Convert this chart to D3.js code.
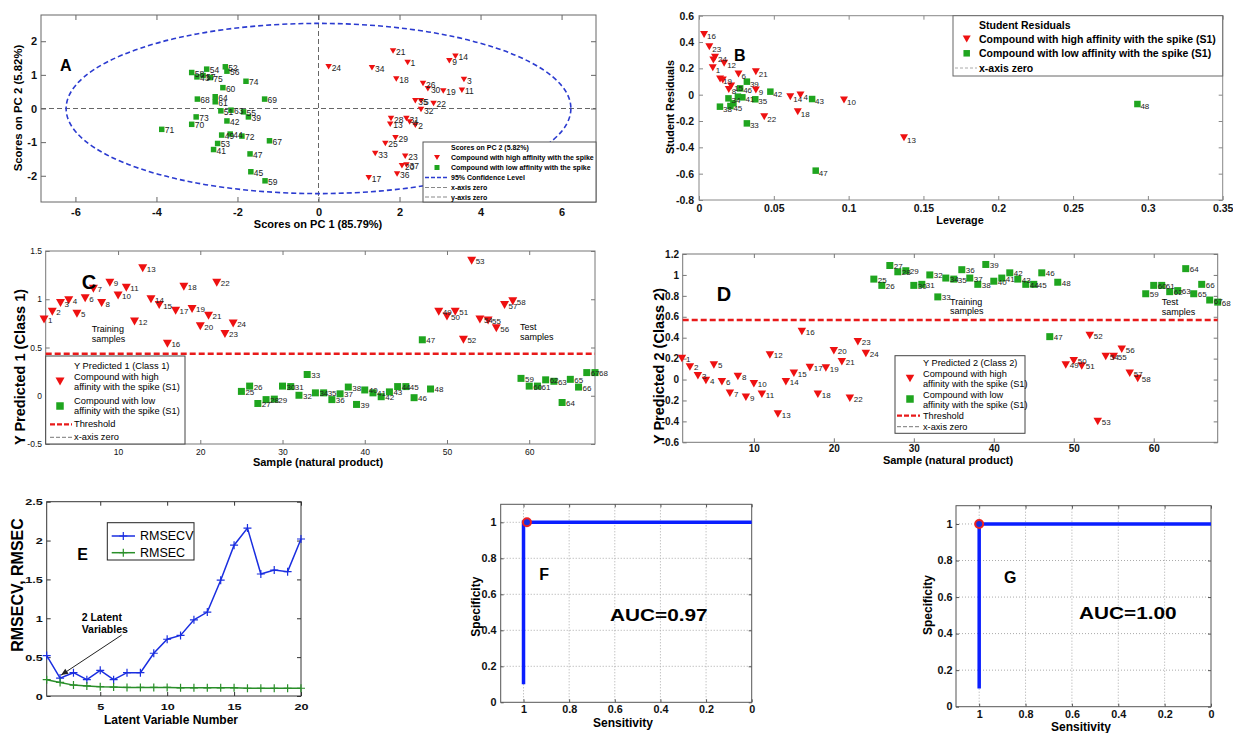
<!DOCTYPE html>
<html><head><meta charset="utf-8">
<script src="https://cdn.jsdelivr.net/npm/d3@7"></script>
<style>body{margin:0;background:#fff}svg{display:block}</style>
</head><body>
<script>
// ---------------- DATA ----------------
// Panel A: PCA scores [label, PC1, PC2]
const pcaHigh = [[21,1.84,1.71],[14,3.38,1.55],[9,3.23,1.42],[1,2.20,1.37],[24,0.25,1.24],[34,1.32,1.21],[18,1.92,0.88],[3,3.59,0.86],[26,2.58,0.74],[30,2.70,0.59],[19,3.08,0.52],[11,3.54,0.54],[35,2.39,0.23],[5,2.53,0.23],[22,2.84,0.15],[32,2.53,-0.03],[28,1.79,-0.30],[31,2.17,-0.30],[4,2.25,-0.40],[2,2.39,-0.50],[13,1.77,-0.47],[29,1.90,-0.87],[25,1.65,-1.04],[33,1.40,-1.34],[23,2.14,-1.42],[20,2.06,-1.70],[37,2.17,-1.68],[36,1.94,-1.95],[17,1.24,-2.06]];
const pcaLow = [[52,-2.30,1.24],[56,-2.26,1.11],[54,-2.76,1.17],[58,-3.13,1.07],[43,-3.00,0.94],[57,-2.85,0.98],[75,-2.67,0.92],[74,-1.79,0.81],[60,-2.36,0.62],[68,-2.99,0.28],[64,-2.55,0.35],[61,-2.55,0.20],[69,-1.33,0.28],[51,-2.41,-0.07],[63,-2.16,-0.05],[55,-1.85,-0.10],[39,-1.73,-0.25],[73,-3.02,-0.25],[42,-2.26,-0.37],[70,-3.13,-0.47],[71,-3.87,-0.62],[49,-2.39,-0.79],[44,-2.18,-0.76],[72,-1.89,-0.82],[67,-1.21,-0.96],[53,-2.49,-1.04],[41,-2.59,-1.22],[47,-1.69,-1.35],[45,-1.67,-1.88],[59,-1.32,-2.15]];
const ellipseRadii = [6.23, 2.53];
// Panel B: [label, leverage, student residual]
const residHigh = [[16,0.0034,0.458],[23,0.0069,0.365],[24,0.0107,0.284],['',0.0096,0.263],[12,0.0168,0.238],[1,0.0092,0.205],[6,0.0264,0.157],[21,0.038,0.175],[19,0.0141,0.119],['',0.0159,0.111],[15,0.0215,0.066],[8,0.0199,0.040],[9,0.038,0.035],[14,0.061,-0.015],[4,0.0678,-0.003],[10,0.0969,-0.041],[18,0.066,-0.129],[22,0.0436,-0.167],[13,0.137,-0.327]];
const residLow = [[39,0.032,0.099],[46,0.0275,0.048],[42,0.0477,0.023],[41,0.029,-0.020],[35,0.0376,-0.035],[34,0.0197,-0.028],[38,0.014,-0.091],[45,0.021,-0.086],['',0.023,-0.066],['',0.026,-0.015],[43,0.0756,-0.033],[33,0.032,-0.218],[47,0.078,-0.577],[48,0.293,-0.071]];
// Panel C: [sample, Y predicted 1]
const pred1High = [[1,0.79],[2,0.87],[3,0.96],[4,0.99],[5,0.85],[6,1.01],[7,1.11],[8,0.96],[9,1.17],[10,1.04],[11,1.12],[12,0.77],[13,1.32],[14,1.00],[15,0.94],[16,0.54],[17,0.88],[18,1.13],[19,0.90],[20,0.72],[21,0.83],[22,1.17],[23,0.64],[24,0.75],[49,0.87],[50,0.82],[51,0.87],[52,0.58],[53,1.40],[54,0.79],[55,0.78],[56,0.70],[57,0.94],[58,0.98]];
const pred1Low = [[25,0.045],[26,0.10],[27,-0.08],[28,-0.04],[29,-0.035],[30,0.10],[31,0.095],[32,0.005],[33,0.22],[34,0.03],[35,0.03],[36,-0.04],[37,0.02],[38,0.09],[39,-0.09],[40,0.06],[41,0.03],[42,-0.01],[43,0.04],[44,0.095],[45,0.095],[46,-0.02],[47,0.58],[48,0.07],[59,0.18],[60,0.10],[61,0.10],[62,0.165],[63,0.15],[64,-0.07],[65,0.17],[66,0.09],[67,0.24],[68,0.24]];
const threshold1 = 0.434;
// Panel D: [sample, Y predicted 2]
const pred2High = [[1,0.20],[2,0.12],[3,0.035],[4,-0.01],[5,0.14],[6,-0.02],[7,-0.13],[8,0.03],[9,-0.17],[10,-0.04],[11,-0.14],[12,0.235],[13,-0.33],[14,-0.02],[15,0.06],[16,0.46],[17,0.115],[18,-0.14],[19,0.11],[20,0.275],[21,0.17],[22,-0.18],[23,0.36],[24,0.25],[49,0.14],[50,0.18],[51,0.13],[52,0.42],[53,-0.40],[54,0.22],[55,0.22],[56,0.29],[57,0.06],[58,0.01]];
const pred2Low = [[25,0.96],[26,0.90],[27,1.09],[28,1.03],[29,1.04],[30,0.90],[31,0.91],[32,1.00],[33,0.79],[34,0.97],[35,0.96],[36,1.05],[37,0.97],[38,0.91],[39,1.10],[40,0.94],[41,0.97],[42,1.02],[43,0.96],[44,0.91],[45,0.91],[46,1.02],[47,0.41],[48,0.93],[59,0.82],[60,0.90],[61,0.90],[62,0.84],[63,0.85],[64,1.06],[65,0.82],[66,0.91],[67,0.76],[68,0.74]];
const threshold2 = 0.57;
// Panel E
const latentVars = [1,2,3,4,5,6,7,8,9,10,11,12,13,14,15,16,17,18,19,20];
const rmsecv = [0.52,0.23,0.30,0.21,0.33,0.21,0.30,0.30,0.55,0.73,0.78,0.98,1.08,1.49,1.94,2.16,1.57,1.62,1.60,2.02];
const rmsec = [0.21,0.175,0.14,0.13,0.12,0.115,0.11,0.11,0.11,0.11,0.105,0.105,0.105,0.105,0.105,0.10,0.10,0.10,0.10,0.10];
// Panels F, G: ROC [sensitivity, specificity]
const rocF = [[1,0.1],[1,1],[0,1]];
const rocFOpt = [0.985,1];
const rocG = [[1,0.1],[1,1],[0,1]];
const rocGOpt = [1,1];
// Tick values
const ticksA_x=[-6,-4,-2,0,2,4,6], ticksA_y=[-2,-1,0,1,2];
const ticksB_x=[0,0.05,0.1,0.15,0.2,0.25,0.3,0.35], ticksB_y=[-0.8,-0.6,-0.4,-0.2,0,0.2,0.4,0.6];
const ticksC_x=[10,20,30,40,50,60], ticksC_y=[-0.5,0,0.5,1,1.5];
const ticksD_x=[10,20,30,40,50,60], ticksD_y=[-0.6,-0.4,-0.2,0,0.2,0.4,0.6,0.8,1,1.2];
const ticksE_x=[5,10,15,20], ticksE_y=[0,0.5,1,1.5,2,2.5];
const ticksROC_x=[1,0.8,0.6,0.4,0.2,0], ticksROC_y=[0,0.2,0.4,0.6,0.8,1];

// ---------------- DRAWING ----------------
const FONT="'Liberation Sans', Arial, Helvetica, sans-serif";
const RED='#ee1111', GREEN='#1fa51f', BLUE='#1a2ee0', DRED='#e81a1a';
const svg=d3.select('body').append('svg').attr('width',1233).attr('height',733);

function T(g,x,y,s,o={}){
  const t=g.append('text').text(s).attr('font-family',FONT).attr('font-size',o.fs||10)
    .attr('font-weight',o.fw||'normal').attr('text-anchor',o.anchor||'start')
    .attr('dominant-baseline',o.db||'central').attr('fill',o.fill||'#000');
  let tr=`translate(${x},${y})`;
  if(o.sx||o.sy) tr+=` scale(${o.sx||1},${o.sy||1})`;
  if(o.rot) tr+=` rotate(${o.rot})`;
  t.attr('transform',tr);
  return t;
}
const fmtNum=v=>String(+v.toFixed(3));

function panel(c){
  const g=svg.append('g');
  const x=d3.scaleLinear().domain(c.xd).range([c.l,c.r]);
  const y=d3.scaleLinear().domain(c.yd).range([c.b,c.t]);
  g.append('rect').attr('x',c.l).attr('y',c.t).attr('width',c.r-c.l).attr('height',c.b-c.t).attr('fill','#fff');
  if(c.grid){
    g.selectAll(null).data(c.xt.filter(v=>Math.abs(x(v)-c.l)>1&&Math.abs(x(v)-c.r)>1)).join('line')
      .attr('x1',d=>x(d)).attr('x2',d=>x(d)).attr('y1',c.t).attr('y2',c.b)
      .attr('stroke','#aaa').attr('stroke-dasharray','1,2');
    g.selectAll(null).data(c.yt.filter(v=>Math.abs(y(v)-c.b)>1&&Math.abs(y(v)-c.t)>1)).join('line')
      .attr('y1',d=>y(d)).attr('y2',d=>y(d)).attr('x1',c.l).attr('x2',c.r)
      .attr('stroke','#aaa').attr('stroke-dasharray','1,2');
  }
  const tl=c.tl||4;
  const style=(a,lab)=>{
    a.select('.domain').remove();
    a.selectAll('line').attr('stroke',c.bc||'#555');
    a.selectAll('text').attr('font-family',FONT).attr('font-size',c.tfs).attr('font-weight',c.tfw||'bold').attr('fill','#111');
    if(lab&&c.tsx) a.selectAll('text').attr('transform',`scale(${c.tsx},1)`);
  };
  const bx=g.append('g').attr('transform',`translate(0,${c.b})`)
    .call(d3.axisBottom(x).tickValues(c.xt).tickFormat(fmtNum).tickSizeInner(-tl).tickSizeOuter(0).tickPadding(c.xpad));
  style(bx,true);
  const tx=g.append('g').attr('transform',`translate(0,${c.t})`)
    .call(d3.axisTop(x).tickValues(c.xt).tickFormat('').tickSizeInner(-tl).tickSizeOuter(0));
  style(tx,false);
  const ly=g.append('g').attr('transform',`translate(${c.l},0)`)
    .call(d3.axisLeft(y).tickValues(c.yt).tickFormat(fmtNum).tickSizeInner(-tl).tickSizeOuter(0).tickPadding(c.ypad));
  style(ly,true);
  const ry=g.append('g').attr('transform',`translate(${c.r},0)`)
    .call(d3.axisRight(y).tickValues(c.yt).tickFormat('').tickSizeInner(-tl).tickSizeOuter(0));
  style(ry,false);
  g.append('rect').attr('x',c.l).attr('y',c.t).attr('width',c.r-c.l).attr('height',c.b-c.t)
    .attr('fill','none').attr('stroke',c.bc||'#555').attr('stroke-width',1);
  const plot=g.append('g');
  return {g,plot,x,y,c};
}
const triPath=(w,h)=>`M${-w/2},${-h/2}L${w/2},${-h/2}L0,${h/2}Z`;
const sqPath=s=>`M${-s/2},${-s/2}h${s}v${s}h${-s}Z`;
function pts(p,rows,fx,fy,fl,shape,color,lfs,ldx,ldy){
  const g=p.plot.append('g');
  g.selectAll('path').data(rows).join('path').attr('d',shape).attr('fill',color)
    .attr('transform',d=>`translate(${p.x(fx(d))},${p.y(fy(d))})`);
  g.selectAll('text').data(rows).join('text').text(d=>fl(d))
    .attr('x',d=>p.x(fx(d))+ldx).attr('y',d=>p.y(fy(d))+ldy)
    .attr('font-family',FONT).attr('font-size',lfs).attr('dominant-baseline','central').attr('fill','#222');
}
function hline(g,x1,x2,y,color,w,dash){
  g.append('line').attr('x1',x1).attr('x2',x2).attr('y1',y).attr('y2',y)
    .attr('stroke',color).attr('stroke-width',w).attr('stroke-dasharray',dash||null);
}
function lbox(g,x0,y0,x1,y1,stroke){
  g.append('rect').attr('x',x0).attr('y',y0).attr('width',x1-x0).attr('height',y1-y0)
    .attr('fill','#fff').attr('stroke',stroke||'#555').attr('stroke-width',1);
}

// ===== Panel A =====
{
const p=panel({l:41,r:596,t:15,b:202,xd:[-6.85,6.85],yd:[-2.78,2.78],xt:ticksA_x,yt:ticksA_y,
  tfs:11,xpad:6,ypad:4,bc:'#666',tl:5});
const g=p.plot;
hline(g,p.c.l,p.c.r,p.y(0),'#666',1,'5,3');
g.append('line').attr('x1',p.x(0)).attr('x2',p.x(0)).attr('y1',p.c.t).attr('y2',p.c.b)
  .attr('stroke','#666').attr('stroke-dasharray','5,3');
g.append('ellipse').attr('cx',p.x(0)).attr('cy',p.y(0))
  .attr('rx',p.x(ellipseRadii[0])-p.x(0)).attr('ry',p.y(0)-p.y(ellipseRadii[1]))
  .attr('fill','none').attr('stroke','#2b3bd0').attr('stroke-width',1.6).attr('stroke-dasharray','5,3');
pts(p,pcaLow,d=>d[1],d=>d[2],d=>d[0],sqPath(5.5),GREEN,8.5,3,1);
pts(p,pcaHigh,d=>d[1],d=>d[2],d=>d[0],triPath(6.5,5.5),RED,8.5,3,1);
const L=p.g.append('g');
lbox(L,423,142,596,202,'#555');
T(L,451,147.5,'Scores on PC 2 (5.82%)',{fs:7,fw:'bold'});
L.append('path').attr('d',triPath(6,5)).attr('fill',RED).attr('transform','translate(437,157.5)');
T(L,451,157.5,'Compound with high affinity with the spike',{fs:7,fw:'bold'});
L.append('path').attr('d',sqPath(5)).attr('fill',GREEN).attr('transform','translate(437,167.5)');
T(L,451,167.5,'Compound with low affinity with the spike',{fs:7,fw:'bold'});
hline(L,425,449,177.5,'#2b3bd0',1.4,'4,2');
T(L,451,177.5,'95% Confidence Level',{fs:7,fw:'bold'});
hline(L,425,449,187.5,'#888',1,'4,2');
T(L,451,187.5,'x-axis zero',{fs:7,fw:'bold'});
hline(L,425,449,197,'#888',1,'4,2');
T(L,451,197,'y-axis zero',{fs:7,fw:'bold'});
T(p.g,60,70.5,'A',{fs:16,fw:'bold',db:'auto'});
T(p.g,318,224,'Scores on PC 1 (85.79%)',{fs:11,fw:'bold',anchor:'middle'});
T(p.g,18,108,'Scores on PC 2 (5.82%)',{fs:11.4,fw:'bold',anchor:'middle',rot:-90});
}

// ===== Panel B =====
{
const p=panel({l:699,r:1222.7,t:15.7,b:200,xd:[0,0.35],yd:[-0.8,0.6],xt:ticksB_x,yt:ticksB_y,
  tfs:10.5,xpad:4.5,ypad:5,bc:'#888',tl:4});
pts(p,residLow,d=>d[1],d=>d[2],d=>d[0],sqPath(6.5),GREEN,8,3,2.5);
pts(p,residHigh,d=>d[1],d=>d[2],d=>d[0],triPath(8,7),RED,8,3,2.5);
const L=p.g.append('g');
lbox(L,953,15.7,1222.7,76,'#666');
T(L,979,24.5,'Student Residuals',{fs:10.5,fw:'bold'});
L.append('path').attr('d',triPath(8,7)).attr('fill',RED).attr('transform','translate(966.7,39)');
T(L,979,39,'Compound with high affinity with the spike (S1)',{fs:10.5,fw:'bold'});
L.append('path').attr('d',sqPath(6.5)).attr('fill',GREEN).attr('transform','translate(966.7,53.3)');
T(L,979,53.3,'Compound with low affinity with the spike (S1)',{fs:10.5,fw:'bold'});
hline(L,955,977,68,'#aaa',1,'3,2');
T(L,979,68,'x-axis zero',{fs:10.5,fw:'bold'});
T(p.g,734,60.7,'B',{fs:16,fw:'bold',db:'auto'});
T(p.g,960,220,'Leverage',{fs:10.8,fw:'bold',anchor:'middle'});
T(p.g,669.5,107,'Student Residuals',{fs:10.8,fw:'bold',anchor:'middle',rot:-90});
}

// ===== Panel C =====
{
const p=panel({l:45.7,r:595,t:251,b:444,xd:[1.2,68],yd:[-0.5,1.5],xt:ticksC_x,yt:ticksC_y,
  tfs:8.5,tfw:'normal',xpad:4.5,ypad:3.7,bc:'#777',tl:4});
hline(p.plot,p.c.l,p.c.r,p.y(threshold1),DRED,2.5,'6,3');
pts(p,pred1Low,d=>d[0],d=>d[1],d=>d[0],sqPath(7),GREEN,8,4,1);
pts(p,pred1High,d=>d[0],d=>d[1],d=>d[0],triPath(9,8),RED,8,4,1);
T(p.g,91.7,329,'Training',{fs:9});
T(p.g,91.7,338.5,'samples',{fs:9});
T(p.g,520,327,'Test',{fs:9});
T(p.g,520,337,'samples',{fs:9});
const L=p.g.append('g');
lbox(L,45.7,356,185,444,'#444');
T(L,74,365.5,'Y Predicted 1 (Class 1)',{fs:9.3});
L.append('path').attr('d',triPath(9,8)).attr('fill',RED).attr('transform','translate(60,381.5)');
T(L,74,377,'Compound with high',{fs:9.3});
T(L,74,386.7,'affinity with the spike (S1)',{fs:9.3});
L.append('path').attr('d',sqPath(7.5)).attr('fill',GREEN).attr('transform','translate(60,406)');
T(L,74,401,'Compound with low',{fs:9.3});
T(L,74,411,'affinity with the spike (S1)',{fs:9.3});
hline(L,50,72,424.3,DRED,2.2,'5,2');
T(L,74,424.3,'Threshold',{fs:9.3});
hline(L,50,72,437.3,'#777',1,'4,2');
T(L,74,437.3,'x-axis zero',{fs:9.3});
T(p.g,81.7,288.5,'C',{fs:20,fw:'bold',db:'auto'});
T(p.g,318,461.5,'Sample (natural product)',{fs:11,fw:'bold',anchor:'middle'});
T(p.g,20,367,'Y Predicted 1 (Class 1)',{fs:14.5,fw:'bold',anchor:'middle',rot:-90});
}

// ===== Panel D =====
{
const p=panel({l:682.7,r:1217.7,t:254,b:442.3,xd:[1.1,68],yd:[-0.6,1.2],xt:ticksD_x,yt:ticksD_y,
  tfs:10,xpad:2.5,ypad:3.7,bc:'#777',tl:4});
hline(p.plot,p.c.l,p.c.r,p.y(threshold2),DRED,2.5,'6,3');
pts(p,pred2Low,d=>d[0],d=>d[1],d=>d[0],sqPath(7),GREEN,8,4,1);
pts(p,pred2High,d=>d[0],d=>d[1],d=>d[0],triPath(8.5,7.5),RED,8,4,1);
T(p.g,950,301.7,'Training',{fs:9});
T(p.g,950,311,'samples',{fs:9});
T(p.g,1161.7,301.7,'Test',{fs:9});
T(p.g,1161.7,311.5,'samples',{fs:9});
const L=p.g.append('g');
lbox(L,895,355.7,1025,433.3,'#444');
T(L,923,362.5,'Y Predicted 2 (Class 2)',{fs:9.2});
L.append('path').attr('d',triPath(8.5,7.5)).attr('fill',RED).attr('transform','translate(910,378.5)');
T(L,923,373.5,'Compound with high',{fs:9.2});
T(L,923,384,'affinity with the spike (S1)',{fs:9.2});
L.append('path').attr('d',sqPath(7.5)).attr('fill',GREEN).attr('transform','translate(910,399)');
T(L,923,394.5,'Compound with low',{fs:9.2});
T(L,923,404.5,'affinity with the spike (S1)',{fs:9.2});
hline(L,897,920,415.7,DRED,2.2,'5,2');
T(L,923,415.7,'Threshold',{fs:9.2});
hline(L,897,920,426.7,'#777',1,'4,2');
T(L,923,426.7,'x-axis zero',{fs:9.2});
T(p.g,716.7,300.7,'D',{fs:20,fw:'bold',db:'auto'});
T(p.g,948,460,'Sample (natural product)',{fs:11,fw:'bold',anchor:'middle'});
T(p.g,659,366,'Y Predicted 2 (Class 2)',{fs:14.5,fw:'bold',anchor:'middle',rot:-90});
}

// ===== Panel E =====
{
const p=panel({l:46.7,r:301,t:501.7,b:696,xd:[1,20],yd:[0,2.5],xt:ticksE_x,yt:ticksE_y,
  tfs:9.5,xpad:7.3,ypad:3,tsx:1.33,bc:'#333',tl:4});
const plus='M-4,0H4M0,-4V4';
const series=[[rmsecv,BLUE],[rmsec,'#2a8f2a']];
series.forEach(([vals,col])=>{
  const rows=latentVars.map((v,i)=>[v,vals[i]]);
  p.plot.append('path').datum(rows).attr('fill','none').attr('stroke',col).attr('stroke-width',1.5)
    .attr('d',d3.line().x(d=>p.x(d[0])).y(d=>p.y(d[1])));
  p.plot.append('g').selectAll('path').data(rows).join('path').attr('d',plus)
    .attr('stroke',col).attr('stroke-width',1.2).attr('fill','none')
    .attr('transform',d=>`translate(${p.x(d[0])},${p.y(d[1])})`);
});
const L=p.g.append('g');
lbox(L,107.3,522.7,194,560,'#222');
[[BLUE,536,'RMSECV'],['#2a8f2a',552.7,'RMSEC']].forEach(([col,yy,lab])=>{
  hline(L,111.7,135,yy,col,1.5);
  L.append('path').attr('d',plus).attr('stroke',col).attr('stroke-width',1.2).attr('transform',`translate(123.3,${yy})`);
  T(L,140,yy,lab,{fs:12.5});
});
T(p.g,77.3,560,'E',{fs:16,fw:'bold',db:'auto'});
T(p.g,81.7,616.7,'2 Latent',{fs:10.5,fw:'bold'});
T(p.g,81.7,629.3,'Variables',{fs:10.5,fw:'bold'});
const tip=[p.x(2)+1,p.y(rmsecv[1])-3];
p.g.append('line').attr('x1',121.7).attr('y1',635).attr('x2',tip[0]).attr('y2',tip[1])
  .attr('stroke','#222').attr('stroke-width',1);
const ang=Math.atan2(tip[1]-635,tip[0]-121.7);
const ah=7, aw=3;
const bx=tip[0]-ah*Math.cos(ang), by=tip[1]-ah*Math.sin(ang);
p.g.append('path').attr('d',`M${tip[0]},${tip[1]}L${bx+aw*Math.sin(ang)},${by-aw*Math.cos(ang)}L${bx-aw*Math.sin(ang)},${by+aw*Math.cos(ang)}Z`).attr('fill','#222');
T(p.g,171,719.5,'Latent Variable Number',{fs:12,fw:'bold',anchor:'middle'});
T(p.g,17,585,'RMSECV, RMSEC',{fs:16,fw:'bold',anchor:'middle',rot:-90});
}

// ===== Panels F & G =====
function rocPanel(box,roc,opt,letter,letterPos,auc,aucPos,xl,yl){
  const p=panel(Object.assign({xd:[1.1,0],yd:[0,1.1],xt:ticksROC_x,yt:ticksROC_y,
    tfs:10,tsx:1.08,bc:'#555',tl:3,grid:true},box));
  p.plot.append('path').datum(roc).attr('fill','none').attr('stroke','#0a1eff').attr('stroke-width',3.5)
    .attr('d',d3.line().x(d=>p.x(d[0])).y(d=>p.y(d[1])));
  p.plot.append('circle').attr('cx',p.x(opt[0])).attr('cy',p.y(opt[1])).attr('r',4)
    .attr('fill','#1a2ee0').attr('stroke','#ee2222').attr('stroke-width',2);
  T(p.g,letterPos[0],letterPos[1],letter,{fs:16,fw:'bold',db:'auto'});
  T(p.g,aucPos[0],aucPos[1],auc,{fs:16,fw:'bold',db:'auto',sx:1.3});
  T(p.g,xl[0],xl[1],'Sensitivity',{fs:12,fw:'bold',anchor:'middle'});
  T(p.g,yl[0],yl[1],'Specificity',{fs:12,fw:'bold',anchor:'middle',rot:-90});
}
rocPanel({l:500.7,r:751.7,t:504.3,b:702.3,xpad:4,ypad:4},rocF,rocFOpt,'F',[539.3,580],'AUC=0.97',[610,620.7],[623,722.7],[476,606.7]);
rocPanel({l:956,r:1211,t:505.7,b:706.7,xpad:4.5,ypad:3.3},rocG,rocGOpt,'G',[1004,582.7],'AUC=1.00',[1079,618.5],[1081,727.3],[928,605]);
</script>
</body></html>
